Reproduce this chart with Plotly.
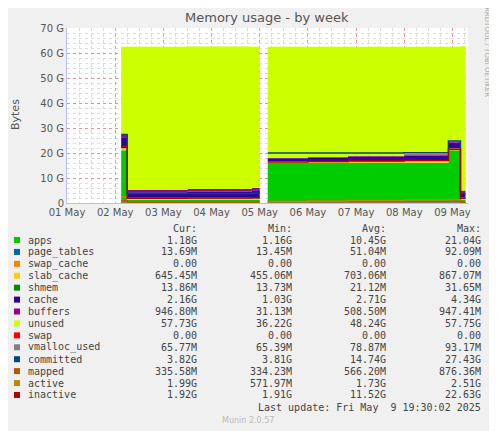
import plotly.graph_objects as go

# ---- data (GB) ----
t1 = ["2025-05-02 03:00", "2025-05-02 06:00", "2025-05-03 12:00", "2025-05-04 20:00", "2025-05-05 00:00"]
t2 = ["2025-05-05 04:00", "2025-05-06 00:00", "2025-05-06 20:00", "2025-05-08 00:00",
      "2025-05-08 22:00", "2025-05-09 04:00", "2025-05-09 06:30"]

series = ["apps", "page_tables", "swap_cache", "slab_cache", "shmem", "cache", "buffers", "unused", "swap"]
colors = {"apps": "#00CC00", "page_tables": "#0066B3", "swap_cache": "#FF8000", "slab_cache": "#FFCC00",
          "shmem": "#008F00", "cache": "#330099", "buffers": "#990099", "unused": "#CCFF00",
          "swap": "#FF0000", "vmalloc_used": "#808080", "committed": "#00487D", "mapped": "#B35A00",
          "active": "#B38F00", "inactive": "#B30000"}

seg1 = {
    "apps":        [21.0, 1.2, 1.2, 1.2, 1.2],
    "page_tables": [0.09, 0.02, 0.02, 0.02, 0.02],
    "swap_cache":  [0, 0, 0, 0, 0],
    "slab_cache":  [0.85, 0.5, 0.6, 0.65, 0.65],
    "shmem":       [0.03, 0.02, 0.02, 0.02, 0.02],
    "cache":       [4.3, 2.6, 2.8, 3.2, 3.2],
    "buffers":     [0.9, 0.9, 0.92, 0.94, 0.94],
    "unused":      [35.3, 57.3, 57.0, 56.5, 56.5],
    "swap":        [0, 0, 0, 0, 0],
}
seg2 = {
    "apps":        [16.0, 16.0, 16.0, 16.1, 21.0, 1.2, 1.2],
    "page_tables": [0.05, 0.05, 0.05, 0.05, 0.09, 0.014, 0.014],
    "swap_cache":  [0, 0, 0, 0, 0, 0, 0],
    "slab_cache":  [0.6, 0.65, 0.7, 0.75, 0.8, 0.65, 0.65],
    "shmem":       [0.02, 0.02, 0.02, 0.02, 0.03, 0.014, 0.014],
    "cache":       [1.2, 1.5, 1.8, 2.1, 2.2, 2.16, 2.16],
    "buffers":     [0.1, 0.2, 0.3, 0.45, 0.5, 0.95, 0.95],
    "unused":      [44.5, 44.1, 43.6, 43.0, 37.9, 57.7, 57.7],
    "swap":        [0, 0, 0, 0, 0, 0, 0],
}
lines1 = {
    "vmalloc_used": [0.09, 0.066, 0.066, 0.066, 0.066],
    "committed":    [27.4, 3.8, 3.8, 3.9, 3.9],
    "mapped":       [0.87, 0.34, 0.34, 0.34, 0.34],
    "active":       [2.5, 1.9, 2.0, 2.0, 2.0],
    "inactive":     [22.6, 1.9, 2.0, 2.1, 2.1],
}
lines2 = {
    "vmalloc_used": [0.08, 0.08, 0.08, 0.08, 0.09, 0.066, 0.066],
    "committed":    [20.0, 20.0, 20.0, 20.1, 24.8, 3.82, 3.82],
    "mapped":       [0.6, 0.6, 0.65, 0.7, 0.8, 0.34, 0.34],
    "active":       [0.6, 0.8, 1.0, 1.2, 1.3, 1.99, 1.99],
    "inactive":     [16.4, 16.6, 16.8, 17.0, 21.5, 1.92, 1.92],
}

legend_rows = [
    ("apps", "1.18G", "1.16G", "10.45G", "21.04G"),
    ("page_tables", "13.69M", "13.45M", "51.04M", "92.09M"),
    ("swap_cache", "0.00", "0.00", "0.00", "0.00"),
    ("slab_cache", "645.45M", "455.06M", "703.06M", "867.07M"),
    ("shmem", "13.86M", "13.73M", "21.12M", "31.65M"),
    ("cache", "2.16G", "1.03G", "2.71G", "4.34G"),
    ("buffers", "946.80M", "31.13M", "508.50M", "947.41M"),
    ("unused", "57.73G", "36.22G", "48.24G", "57.75G"),
    ("swap", "0.00", "0.00", "0.00", "0.00"),
    ("vmalloc_used", "65.77M", "65.39M", "78.87M", "93.17M"),
    ("committed", "3.82G", "3.81G", "14.74G", "27.43G"),
    ("mapped", "335.58M", "334.23M", "566.20M", "876.36M"),
    ("active", "1.99G", "571.97M", "1.73G", "2.51G"),
    ("inactive", "1.92G", "1.91G", "11.52G", "22.63G"),
]

fig = go.Figure()
for gi, (t, seg, ln) in enumerate([(t1, seg1, lines1), (t2, seg2, lines2)]):
    for s in series:
        fig.add_trace(go.Scatter(x=t, y=seg[s], stackgroup="g%d" % gi, mode="lines",
                                 line=dict(width=0, shape="hv"), fillcolor=colors[s],
                                 showlegend=False, hoverinfo="skip"))
    for s, v in ln.items():
        fig.add_trace(go.Scatter(x=t, y=v, mode="lines", line=dict(color=colors[s], width=1.5, shape="hv"),
                                 showlegend=False, hoverinfo="skip"))

OFF = 8  # page body margin
W, H = 497 - OFF, 431 - OFF
L, T = 67 - OFF, 28 - OFF
R = W - (468 - OFF)
B = H - (203 - OFF)
pw, ph = W - L - R, H - T - B

def px(x):
    return (x - OFF - L) / pw

def py(y):
    return 1 - (y - OFF - T) / ph

mono = "DejaVu Sans Mono"
grey = "#444444"
colx = [199, 294, 388, 483]
annotations = []

def txt(x, y, s, anchor="left", font=mono, size=10, color=grey, angle=0):
    annotations.append(dict(x=px(x), y=py(y), xref="paper", yref="paper", text=s, xanchor=anchor,
                            yanchor="middle", showarrow=False, textangle=angle,
                            font=dict(family=font, size=size, color=color)))

for i, col in enumerate(["Cur:", "Min:", "Avg:", "Max:"]):
    txt(colx[i], 228, col, "right")
shapes = []
for r, row in enumerate(legend_rows):
    yy = 240 + r * 11.92
    txt(26, yy, row[0])
    for i in range(4):
        txt(colx[i], yy, row[i + 1], "right")
    shapes.append(dict(type="rect", xref="paper", yref="paper", x0=px(14), x1=px(20),
                       y0=py(yy + 3), y1=py(yy - 3), fillcolor=colors[row[0]], line=dict(width=0)))
txt(483, 408, "Last update: Fri May  9 19:30:02 2025", "right")
txt(248, 420, "Munin 2.0.57", "center", font="DejaVu Sans", size=8, color="#bbbbbb")
txt(487, 52, "RRDTOOL / TOBI OETIKER", "center", font="DejaVu Sans", size=7, color="#aaaaaa", angle=90)
txt(15, 115, "Bytes", "center", font="DejaVu Sans", size=11, color="#555555", angle=-90)
txt(267, 18, "Memory usage - by week", "center", font="DejaVu Sans", size=13, color="#555555")

fig.update_layout(
    width=W, height=H, margin=dict(l=L, r=R, t=T, b=B),
    paper_bgcolor="#F0F0F0", plot_bgcolor="white",
    xaxis=dict(type="date", range=["2025-05-01 00:00", "2025-05-09 07:45"],
               dtick=86400000, tick0="2025-05-01", tickformat="%d %b",
               showgrid=True, gridcolor="rgba(230,130,130,0.8)", griddash="dot", gridwidth=1,
               minor=dict(dtick=6 * 3600000, showgrid=True, gridcolor="#dddddd", griddash="dot"),
               tickfont=dict(family="DejaVu Sans", size=10, color="#555555"), ticks="", zeroline=False,
               showline=True, linecolor="#bbbbff"),
    yaxis=dict(range=[0, 70], tickvals=list(range(0, 71, 10)),
               ticktext=["0"] + ["%d G" % v for v in range(10, 71, 10)],
               showgrid=True, gridcolor="rgba(230,130,130,0.8)", griddash="dot",
               minor=dict(dtick=2, showgrid=True, gridcolor="#dddddd", griddash="dot"),
               tickfont=dict(family="DejaVu Sans", size=10, color="#555555"), ticks="", zeroline=False,
               showline=True, linecolor="#bbbbff"),
    annotations=annotations, shapes=shapes,
)
fig.write_html("out.html")
